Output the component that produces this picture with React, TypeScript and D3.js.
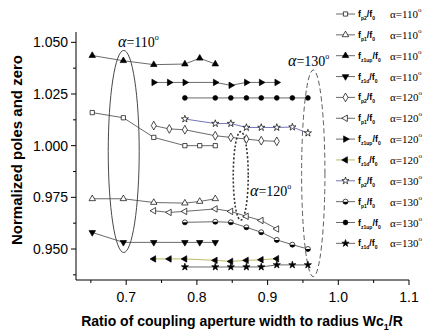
import React from "react";
import * as d3 from "d3";

// x positions (Wc1/R) for each alpha group
const xs110 = [0.652, 0.696, 0.739, 0.783, 0.804, 0.826];
const xs120 = [0.739, 0.761, 0.783, 0.826, 0.848, 0.87, 0.891, 0.913];
const xs130 = [0.783, 0.826, 0.848, 0.87, 0.891, 0.913, 0.935, 0.957];

// alpha = 110
const fp2_110 = [1.016, 1.0135, 1.004, 1.0, 1.0, 1.0];
const fp1_110 = [0.9743, 0.9743, 0.9725, 0.9722, 0.973, 0.9743];
const fz1up_110 = [1.0436, 1.0411, 1.0392, 1.0395, 1.0423, 1.0395];
const fz1d_110 = [0.958, 0.9532, 0.9532, 0.9532, 0.9532, 0.9532];

// alpha = 120
const fp2_120 = [1.0097, 1.0081, 1.0077, 1.0048, 1.004, 1.0032, 1.0024, 1.0021];
const fp1_120 = [0.9685, 0.9677, 0.9682, 0.9694, 0.9682, 0.9658, 0.9638, 0.9597];
const fz1up_120 = [1.0306, 1.0306, 1.0306, 1.0306, 1.0292, 1.0306, 1.0306, 1.0306];
const fz1d_120 = [0.9452, 0.9452, 0.9452, 0.9445, 0.944, 0.9445, 0.9448, 0.9453];

// alpha = 130
const fp2_130 = [1.0129, 1.0107, 1.0107, 1.0088, 1.0088, 1.0088, 1.009, 1.0061];
const fp1_130 = [0.9629, 0.9632, 0.9629, 0.9605, 0.9581, 0.9544, 0.9521, 0.95];
const fz1up_130 = [1.0231, 1.0231, 1.0231, 1.0231, 1.0231, 1.0231, 1.0231, 1.0231];
const fz1d_130 = [0.9413, 0.9413, 0.9413, 0.9413, 0.9413, 0.9423, 0.9423, 0.9423];

const xTicks = [0.7, 0.8, 0.9, 1.0, 1.1];
const xMinor = [0.65, 0.75, 0.85, 0.95, 1.05];
const yTicks = [0.95, 0.975, 1.0, 1.025, 1.05];
const yMinor = [0.9375, 0.9625, 0.9875, 1.0125, 1.0375];

const series = [
  { sub: "p2", alpha: "110", xs: xs110, ys: fp2_110, mk: "square", color: "#444" },
  { sub: "p1", alpha: "110", xs: xs110, ys: fp1_110, mk: "triUp", color: "#444" },
  { sub: "z1up", alpha: "110", xs: xs110, ys: fz1up_110, mk: "triUpFill", color: "#444" },
  { sub: "z1d", alpha: "110", xs: xs110, ys: fz1d_110, mk: "triDownFill", color: "#444" },
  { sub: "p2", alpha: "120", xs: xs120, ys: fp2_120, mk: "diamond", color: "#444" },
  { sub: "p1", alpha: "120", xs: xs120, ys: fp1_120, mk: "triLeft", color: "#444" },
  { sub: "z1up", alpha: "120", xs: xs120, ys: fz1up_120, mk: "triRightFill", color: "#444" },
  { sub: "z1d", alpha: "120", xs: xs120, ys: fz1d_120, mk: "triLeftFill", color: "#a8a840" },
  { sub: "p2", alpha: "130", xs: xs130, ys: fp2_130, mk: "star", color: "#5050a8" },
  { sub: "p1", alpha: "130", xs: xs130, ys: fp1_130, mk: "halfCircle", color: "#444" },
  { sub: "z1up", alpha: "130", xs: xs130, ys: fz1up_130, mk: "circleFill", color: "#444" },
  { sub: "z1d", alpha: "130", xs: xs130, ys: fz1d_130, mk: "starFill", color: "#444" },
];

// group ellipses in data units: [cx, cy, rx, ry]
const groups = [
  { label: "110", e: [0.6965, 0.9972, 0.0219, 0.0489], dash: "none", w: 0.9 },
  { label: "120", e: [0.862, 0.9854, 0.0106, 0.0214], dash: "2,2", w: 1.6 },
  { label: "130", e: [0.9646, 0.9866, 0.0165, 0.05], dash: "5,3", w: 0.8 },
];

const W = 425;
const H = 333;
const x = d3.scaleLinear().domain([0.629, 1.1]).range([76, 409]);
const y = d3.scaleLinear().domain([0.935, 1.055]).range([280, 32]);

const sym = (type: d3.SymbolType, size: number) => d3.symbol().type(type).size(size)() as string;

function Marker({ kind, cx, cy }: { kind: string; cx: number; cy: number }) {
  const t = `translate(${cx},${cy})`;
  const s = { stroke: "#000", strokeWidth: 0.7 };
  switch (kind) {
    case "square":
      return <path transform={t} d={sym(d3.symbolSquare, 18)} fill="#fff" {...s} />;
    case "triUp":
      return <path transform={t} d={sym(d3.symbolTriangle, 18)} fill="#fff" {...s} />;
    case "triUpFill":
      return <path transform={t} d={sym(d3.symbolTriangle, 18)} fill="#000" {...s} />;
    case "triDownFill":
      return <path transform={`${t} rotate(180)`} d={sym(d3.symbolTriangle, 18)} fill="#000" {...s} />;
    case "diamond":
      return <path transform={t} d={sym(d3.symbolDiamond, 22)} fill="#fff" {...s} />;
    case "triLeft":
      return <path transform={`${t} rotate(-90)`} d={sym(d3.symbolTriangle, 18)} fill="#fff" {...s} />;
    case "triRightFill":
      return <path transform={`${t} rotate(90)`} d={sym(d3.symbolTriangle, 18)} fill="#000" {...s} />;
    case "triLeftFill":
      return <path transform={`${t} rotate(-90)`} d={sym(d3.symbolTriangle, 18)} fill="#000" {...s} />;
    case "star":
      return <path transform={t} d={sym(d3.symbolStar, 16)} fill="#fff" {...s} />;
    case "starFill":
      return <path transform={t} d={sym(d3.symbolStar, 16)} fill="#000" {...s} />;
    case "circleFill":
      return <circle cx={cx} cy={cy} r={2.4} fill="#000" {...s} />;
    case "halfCircle":
      return (
        <g transform={t}>
          <circle r={2.5} fill="#fff" {...s} />
          <path d="M-2.5,0 A2.5,2.5 0 0 0 2.5,0 Z" fill="#000" />
        </g>
      );
    default:
      return null;
  }
}

const line = d3
  .line<[number, number]>()
  .x((d) => x(d[0]))
  .y((d) => y(d[1]));

export default function App() {
  const legY = (i: number) => 14 + i * 20.85;
  return (
    <svg
      width={W}
      height={H}
      style={{ position: "absolute", left: 0, top: 0, background: "#fff" }}
      fontFamily="Arial, 'Liberation Sans', sans-serif"
    >
      {/* axes */}
      <line x1={x.range()[0]} x2={x.range()[1]} y1={280} y2={280} stroke="#000" strokeWidth={1} />
      <line x1={76} x2={76} y1={y.range()[0]} y2={y.range()[1]} stroke="#000" strokeWidth={1} />
      {xTicks.map((t) => (
        <g key={t}>
          <line x1={x(t)} x2={x(t)} y1={280} y2={285} stroke="#000" />
          <text x={x(t)} y={302} textAnchor="middle" fontSize={14}>
            {t.toFixed(1)}
          </text>
        </g>
      ))}
      {xMinor.map((t) => (
        <line key={t} x1={x(t)} x2={x(t)} y1={280} y2={283} stroke="#000" />
      ))}
      {yTicks.map((t) => (
        <g key={t}>
          <line x1={71} x2={76} y1={y(t)} y2={y(t)} stroke="#000" />
          <text x={68} y={y(t) + 5} textAnchor="end" fontSize={14}>
            {t.toFixed(3)}
          </text>
        </g>
      ))}
      {yMinor.map((t) => (
        <line key={t} x1={73} x2={76} y1={y(t)} y2={y(t)} stroke="#000" />
      ))}
      <text
        transform="translate(22,150) rotate(-90)"
        textAnchor="middle"
        fontSize={15}
        fontWeight="bold"
      >
        Normalized poles and zero
      </text>
      <text x={242} y={326} textAnchor="middle" fontSize={14} fontWeight="bold">
        Ratio of coupling aperture width to radius Wc
        <tspan fontSize={9} dy={4}>1</tspan>
        <tspan dy={-4}>/R</tspan>
      </text>

      {/* group ellipses */}
      {groups.map((g) => (
        <ellipse
          key={g.label}
          cx={x(g.e[0])}
          cy={y(g.e[1])}
          rx={x(g.e[0] + g.e[2]) - x(g.e[0])}
          ry={y(g.e[1]) - y(g.e[1] + g.e[3])}
          fill="none"
          stroke="#333"
          strokeWidth={g.w}
          strokeDasharray={g.dash}
        />
      ))}
      {[
        { t: "110", px: 118, py: 47 },
        { t: "120", px: 250, py: 196 },
        { t: "130", px: 288, py: 66 },
      ].map((l) => (
        <text key={l.t} x={l.px} y={l.py} fontFamily="'Liberation Serif', 'Times New Roman', serif" fontSize={14}>
          <tspan fontStyle="italic" fontSize={16}>α</tspan>={l.t}
          <tspan fontSize={8} dy={-7}>o</tspan>
        </text>
      ))}

      {/* series */}
      {series.map((s, i) => {
        const pts = s.xs.map((v, j) => [v, s.ys[j]] as [number, number]);
        return (
          <g key={i}>
            <path d={line(pts) as string} fill="none" stroke={s.color} strokeWidth={0.8} />
            {pts.map((p, j) => (
              <Marker key={j} kind={s.mk} cx={x(p[0])} cy={y(p[1])} />
            ))}
          </g>
        );
      })}

      {/* legend */}
      {series.map((s, i) => (
        <g key={i}>
          <line x1={336} x2={355} y1={legY(i)} y2={legY(i)} stroke={s.color} strokeWidth={0.8} />
          <Marker kind={s.mk} cx={345.5} cy={legY(i)} />
          <text x={358} y={legY(i) + 3} fontSize={9} fontWeight="bold">
            f<tspan fontSize={5} dy={3}>{s.sub}</tspan>
            <tspan dy={-3}>/f</tspan>
            <tspan fontSize={5} dy={3}>0</tspan>
          </text>
          <text
            x={390}
            y={legY(i) + 4}
            fontSize={11}
            fontFamily="'Liberation Serif', 'Times New Roman', serif"
          >
            α={s.alpha}
            <tspan fontSize={7} dy={-6}>o</tspan>
          </text>
        </g>
      ))}
    </svg>
  );
}
